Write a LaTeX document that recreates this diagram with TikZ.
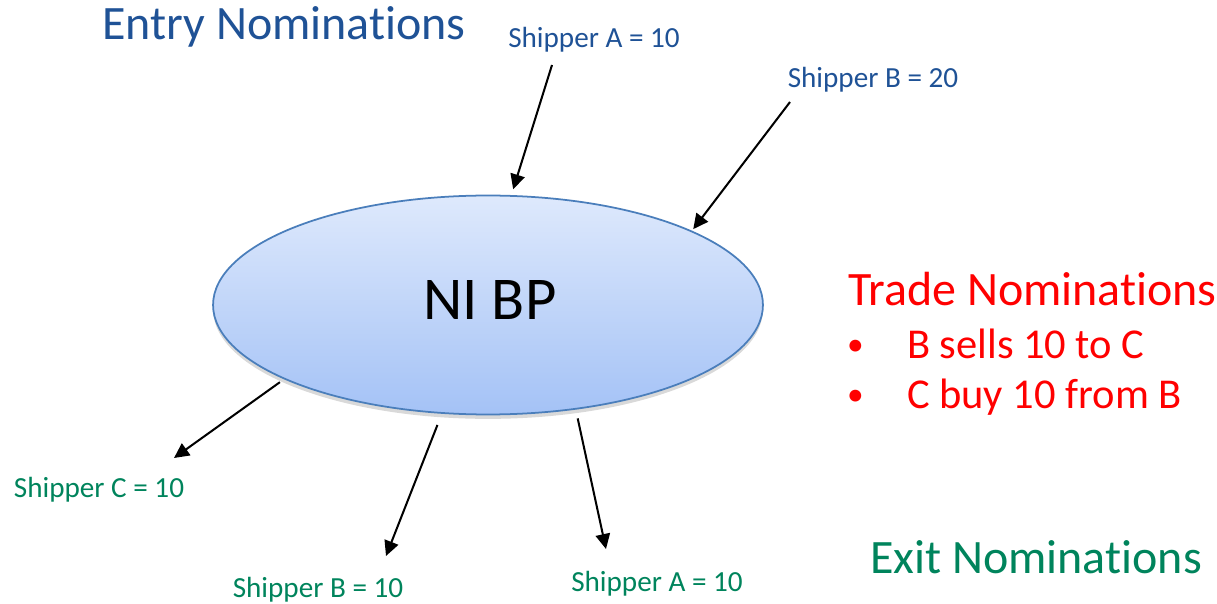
\documentclass[tikz,border=0pt]{standalone}
\usepackage{fontspec}
\setmainfont[RawFeature={-liga;-clig;-calt;-dlig}]{Carlito}
\usetikzlibrary{arrows.meta,shapes.geometric,shadows}
\definecolor{entryblue}{RGB}{31,82,150}
\definecolor{exitgreen}{RGB}{0,132,92}
\definecolor{tradered}{RGB}{255,0,0}
\definecolor{bptop}{RGB}{222,233,252}
\definecolor{bpbottom}{RGB}{164,194,246}
\definecolor{bpline}{RGB}{74,126,187}

\begin{document}
\begin{tikzpicture}[x=0.02cm,y=-0.02cm,->,>={Triangle[length=0.3cm,width=0.29cm]},line width=1.15pt]
	\tikzstyle{hub}=[ellipse,draw=bpline,line width=1pt,top color=bptop,bottom color=bpbottom,minimum width=11cm,minimum height=4.38cm,inner sep=0pt,drop shadow={shadow xshift=0pt,shadow yshift=-2.5pt,opacity=0.3}]
	\tikzstyle{heading}=[font=\fontsize{27.3}{31}\selectfont,inner sep=0pt]
	\tikzstyle{shipper}=[font=\fontsize{16.6}{20}\selectfont,inner sep=0pt]
	\tikzstyle{item}=[font=\fontsize{24.2}{28}\selectfont,inner sep=0pt,text=tradered,anchor=base west]

	\useasboundingbox (0,0) rectangle (1217,604);

	\node[hub] (bp) at (488,305) {};
	\node[inner sep=0pt,font=\fontsize{34.6}{40}\selectfont] (bptext) at (490,300) {NI BP};

	\node[heading,text=entryblue] (entry) at (284,27) {Entry Nominations};
	\node[shipper,text=entryblue] (inA) at (594,40) {Shipper A = 10};
	\node[shipper,text=entryblue] (inB) at (873,80) {Shipper B = 20};

	\node[heading,text=tradered,anchor=base west] (trade) at (847,306) {Trade Nominations};
	\node[item,font=\fontsize{19}{22}\selectfont] (dot1) at (846,356) {•};
	\node[item] (sell) at (906,359) {B sells 10 to C};
	\node[item,font=\fontsize{19}{22}\selectfont] (dot2) at (846,406) {•};
	\node[item] (buy) at (906,409) {C buy 10 from B};

	\node[shipper,text=exitgreen] (outC) at (99,490) {Shipper C = 10};
	\node[shipper,text=exitgreen] (outB) at (318,590) {Shipper B = 10};
	\node[shipper,text=exitgreen] (outA) at (657,584) {Shipper A = 10};
	\node[heading,text=exitgreen] (exit) at (1036,557) {Exit Nominations};

	\coordinate (srcA) at (552,65);
	\coordinate (srcB) at (790,102);
	\coordinate (dstC) at (174,458);
	\coordinate (dstB) at (386,556);
	\coordinate (dstA) at (606,549);

	\draw[shorten >=0.12cm] (srcA) -- (bp.78);
	\draw[shorten >=0.04cm] (srcB) -- (bp.20);
	\draw[shorten <=0.1cm] (bp.200) -- (dstC);
	\draw[shorten <=0.24cm] (bp.247) -- (dstB);
	\draw[shorten <=0.18cm] (bp.310) -- (dstA);
\end{tikzpicture}
\end{document}
